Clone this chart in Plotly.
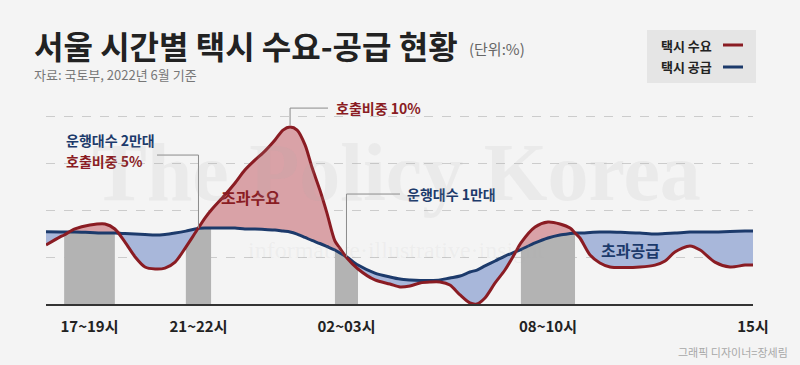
import plotly.graph_objects as go

# ---------------- data ----------------
# x: hours after 16:00 (0 = 16시, 23 = 다음날 15시); y: share (%)
hours = [0.00, 0.46, 0.59, 0.94, 1.43, 1.92, 2.24, 2.57, 2.90, 3.22, 3.55, 3.87, 4.20,
         4.55, 4.85, 5.17, 5.37, 5.82, 6.15, 6.47, 6.80, 7.12, 7.45, 7.71, 7.94, 8.17,
         8.43, 8.65, 8.91, 9.14, 9.40, 9.56, 9.79, 10.15, 10.70, 11.19, 11.52, 11.84,
         12.17, 12.49, 12.82, 13.14, 13.47, 13.79, 14.02, 14.28, 14.61, 14.93, 15.26,
         15.45, 15.91, 16.33, 16.72, 17.05, 17.21, 17.37, 17.70, 18.02, 18.35, 18.84,
         19.32, 19.81, 20.14, 20.46, 20.95, 21.28, 21.76, 22.25, 22.74, 23.00]
supply = [4.08, 4.07, 4.07, 4.07, 4.04, 4.01, 4.01, 3.98, 3.95, 3.93, 3.90, 3.93, 4.01,
          4.12, 4.24, 4.29, 4.29, 4.29, 4.29, 4.24, 4.24, 4.21, 4.18, 4.12, 4.07, 3.95,
          3.76, 3.59, 3.42, 3.25, 3.05, 2.88, 2.66, 2.20, 1.75, 1.53, 1.41, 1.36,
          1.33, 1.33, 1.36, 1.47, 1.58, 1.81, 1.92, 2.15, 2.43, 2.71, 2.94,
          3.08, 3.45, 3.73, 3.90, 3.98, 4.01, 4.01, 4.04, 4.07, 4.07, 4.04,
          4.01, 3.95, 3.98, 4.01, 4.07, 4.07, 4.07, 4.10, 4.12, 4.12]
demand = [3.33, 3.79, 3.90, 4.24, 4.46, 4.52, 4.24, 3.50, 2.66, 2.09, 1.98, 2.03, 2.37,
          3.22, 4.01, 4.86, 5.30, 6.16, 6.84, 7.57, 8.14, 8.64, 9.27, 9.83, 10.00, 9.83,
          8.98, 7.74, 6.44, 5.14, 3.56, 3.16, 2.60, 1.98, 1.36, 1.13, 0.96, 1.02,
          1.19, 1.24, 1.24, 1.07, 0.51, 0.06, 0.00, 0.34, 1.19, 1.92, 2.88,
          3.45, 4.35, 4.63, 4.52, 4.29, 4.01, 3.73, 2.77, 2.32, 2.09, 2.06,
          2.09, 2.20, 2.43, 2.94, 3.28, 3.05, 2.37, 2.09, 2.20, 2.20]

bar_labels = ["17~19시", "21~22시", "02~03시", "08~10시"]
bar_start = [0.59, 4.55, 9.40, 15.45]
bar_end = [2.24, 5.37, 10.15, 17.21]
end_label = "15시"
end_hour = 23.00

# ---------------- style ----------------
BG = "#f4f4f4"
RED = "#8a1c23"
NAVY = "#1c3a6b"
RED_FILL = "#d9a2a7"
BLUE_FILL = "#a8b7da"
BAR = "#b3b3b3"
FONT = "Noto Sans CJK KR"

PLOT_L, PLOT_R, PLOT_T, PLOT_B = 46, 753, 100, 304
Y_MAX = 11.53
GRID = 2.655


def paper(xp, yp):
    return (xp - PLOT_L) / (PLOT_R - PLOT_L), (PLOT_B - yp) / (PLOT_B - PLOT_T)


fig = go.Figure()

# gray time-band bars: area under the supply line within each band
for s, e in zip(bar_start, bar_end):
    xs = [h for h in hours if s - 1e-9 <= h <= e + 1e-9]
    ys = [v for h, v in zip(hours, supply) if s - 1e-9 <= h <= e + 1e-9]
    fig.add_trace(go.Scatter(x=xs, y=ys, mode="lines", fill="tozeroy",
                             fillcolor=BAR, line=dict(width=0, shape="spline", smoothing=0.8),
                             hoverinfo="skip", showlegend=False))

upper = [max(d, s) for d, s in zip(demand, supply)]
lower = [min(d, s) for d, s in zip(demand, supply)]
line0 = dict(width=0, shape="spline", smoothing=0.8)

fig.add_trace(go.Scatter(x=hours, y=supply, mode="lines", line=line0,
                         hoverinfo="skip", showlegend=False))
fig.add_trace(go.Scatter(x=hours, y=upper, mode="lines", line=line0, fill="tonexty",
                         fillcolor=RED_FILL, hoverinfo="skip", showlegend=False))
fig.add_trace(go.Scatter(x=hours, y=supply, mode="lines", line=line0,
                         hoverinfo="skip", showlegend=False))
fig.add_trace(go.Scatter(x=hours, y=lower, mode="lines", line=line0, fill="tonexty",
                         fillcolor=BLUE_FILL, hoverinfo="skip", showlegend=False))

fig.add_trace(go.Scatter(x=hours, y=supply, mode="lines", name="택시 공급",
                         line=dict(color=NAVY, width=3, shape="spline", smoothing=0.8),
                         showlegend=False))
fig.add_trace(go.Scatter(x=hours, y=demand, mode="lines", name="택시 수요",
                         line=dict(color=RED, width=3, shape="spline", smoothing=0.8),
                         showlegend=False))

tick_vals = [(s + e) / 2 for s, e in zip(bar_start, bar_end)] + [end_hour]
tick_text = bar_labels + [end_label]

shapes = []
annotations = []
LEAD = dict(color="#8a8a8a", width=1)

# leader: peak demand
i_pk = demand.index(max(demand))
pk_x, pk_y = hours[i_pk], demand[i_pk]
lead_y1 = (PLOT_B - 108) / 17.7
lead_x1 = (328 - PLOT_L) / 30.74
shapes.append(dict(type="line", xref="x", yref="y", x0=pk_x, x1=pk_x, y0=pk_y + 0.12, y1=lead_y1, line=LEAD))
shapes.append(dict(type="line", xref="x", yref="y", x0=pk_x, x1=lead_x1, y0=lead_y1, y1=lead_y1, line=LEAD))
annotations.append(dict(x=lead_x1, y=lead_y1, xref="x", yref="y", text="호출비중 10%", showarrow=False,
                        xanchor="left", yanchor="middle", xshift=6,
                        font=dict(family=FONT, size=14, color=RED, weight=700)))

# leader: 21~22 band
b2x = (bar_start[1] + bar_end[1]) / 2
b2top = max(v for h, v in zip(hours, supply) if bar_start[1] <= h <= bar_end[1])
l2y = (PLOT_B - 155) / 17.7
l2x0 = (157 - PLOT_L) / 30.74
shapes.append(dict(type="line", xref="x", yref="y", x0=l2x0, x1=b2x, y0=l2y, y1=l2y, line=LEAD))
shapes.append(dict(type="line", xref="x", yref="y", x0=b2x, x1=b2x, y0=l2y, y1=b2top, line=LEAD))
p = paper(64, 140)
annotations.append(dict(x=p[0], y=p[1], xref="paper", yref="paper", text="운행대수 2만대",
                        showarrow=False, xanchor="left", yanchor="middle",
                        font=dict(family=FONT, size=14, color=NAVY, weight=700)))
p = paper(64, 161)
annotations.append(dict(x=p[0], y=p[1], xref="paper", yref="paper", text="호출비중 5%",
                        showarrow=False, xanchor="left", yanchor="middle",
                        font=dict(family=FONT, size=14, color=RED, weight=700)))

# leader: 02~03 band
b3x = (bar_start[2] + bar_end[2]) / 2
i3 = min(range(len(hours)), key=lambda k: abs(hours[k] - b3x))
l3y = (PLOT_B - 194) / 17.7
l3x1 = (400 - PLOT_L) / 30.74
shapes.append(dict(type="line", xref="x", yref="y", x0=b3x, x1=l3x1, y0=l3y, y1=l3y, line=LEAD))
shapes.append(dict(type="line", xref="x", yref="y", x0=b3x, x1=b3x, y0=l3y, y1=supply[i3], line=LEAD))
annotations.append(dict(x=l3x1, y=l3y, xref="x", yref="y", text="운행대수 1만대", showarrow=False,
                        xanchor="left", yanchor="middle", xshift=5,
                        font=dict(family=FONT, size=14, color=NAVY, weight=700)))

# area labels
p = paper(250, 197)
annotations.append(dict(x=p[0], y=p[1], xref="paper", yref="paper", text="초과수요", showarrow=False,
                        xanchor="center", yanchor="middle",
                        font=dict(family=FONT, size=16, color=RED, weight=700)))
p = paper(630, 250)
annotations.append(dict(x=p[0], y=p[1], xref="paper", yref="paper", text="초과공급", showarrow=False,
                        xanchor="center", yanchor="middle",
                        font=dict(family=FONT, size=16, color=NAVY, weight=700)))

# watermark
p = paper(396, 172)
annotations.append(dict(x=p[0], y=p[1], xref="paper", yref="paper", text="The Policy Korea",
                        showarrow=False, xanchor="center", yanchor="middle",
                        font=dict(family="Liberation Serif", size=82, color="rgba(170,170,170,0.13)", weight=700)))
p = paper(396, 250)
annotations.append(dict(x=p[0], y=p[1], xref="paper", yref="paper", text="informative·illustrative·insight",
                        showarrow=False, xanchor="center", yanchor="middle",
                        font=dict(family="Liberation Serif", size=24, color="rgba(170,170,170,0.10)")))

# title block
p = paper(32, 45)
annotations.append(dict(x=p[0], y=p[1], xref="paper", yref="paper", text="서울 시간별 택시 수요-공급 현황",
                        showarrow=False, xanchor="left", yanchor="middle",
                        font=dict(family=FONT, size=32, color="#222222", weight=700)))
p = paper(467, 48)
annotations.append(dict(x=p[0], y=p[1], xref="paper", yref="paper", text="(단위:%)",
                        showarrow=False, xanchor="left", yanchor="middle",
                        font=dict(family=FONT, size=15, color="#666666")))
p = paper(32, 74)
annotations.append(dict(x=p[0], y=p[1], xref="paper", yref="paper", text="자료: 국토부, 2022년 6월 기준",
                        showarrow=False, xanchor="left", yanchor="middle",
                        font=dict(family=FONT, size=13, color="#777777")))
p = paper(790, 352)
annotations.append(dict(x=p[0], y=p[1], xref="paper", yref="paper", text="그래픽 디자이너=장세림",
                        showarrow=False, xanchor="right", yanchor="middle",
                        font=dict(family=FONT, size=11, color="#a8a8a8")))

# legend box
a0, b0 = paper(647, 30)
a1, b1 = paper(756, 83)
shapes.append(dict(type="rect", xref="paper", yref="paper", x0=a0, x1=a1, y0=b1, y1=b0,
                   fillcolor="#e5e5e5", line=dict(width=0), layer="below"))
for label, col, yp in [("택시 수요", RED, 45), ("택시 공급", NAVY, 67)]:
    p = paper(659, yp)
    annotations.append(dict(x=p[0], y=p[1], xref="paper", yref="paper", text=label, showarrow=False,
                            xanchor="left", yanchor="middle",
                            font=dict(family=FONT, size=13, color="#222222", weight=700)))
    q0 = paper(723, yp)
    q1 = paper(743, yp)
    shapes.append(dict(type="line", xref="paper", yref="paper", x0=q0[0], x1=q1[0], y0=q0[1], y1=q1[1],
                       line=dict(color=col, width=3)))

fig.update_layout(
    width=800, height=365,
    margin=dict(l=PLOT_L, r=800 - PLOT_R, t=PLOT_T, b=365 - PLOT_B),
    paper_bgcolor=BG, plot_bgcolor=BG,
    showlegend=False,
    shapes=shapes, annotations=annotations,
    xaxis=dict(range=[0, end_hour], tickvals=tick_vals, ticktext=tick_text,
               showgrid=False, zeroline=False, showline=True, linecolor="#333333", linewidth=1.5,
               ticks="outside", ticklen=8, tickcolor=BG,
               tickfont=dict(family=FONT, size=15, color="#222222", weight=700), fixedrange=True),
    yaxis=dict(range=[0, Y_MAX], tick0=0, dtick=GRID, showticklabels=False, zeroline=False,
               showgrid=True, gridcolor="#cccccc", griddash="dash", gridwidth=1, fixedrange=True),
)

fig.write_html("out.html", config={"displayModeBar": False},
               post_script="document.body.style.margin='0px';document.body.style.background='#f4f4f4';")
